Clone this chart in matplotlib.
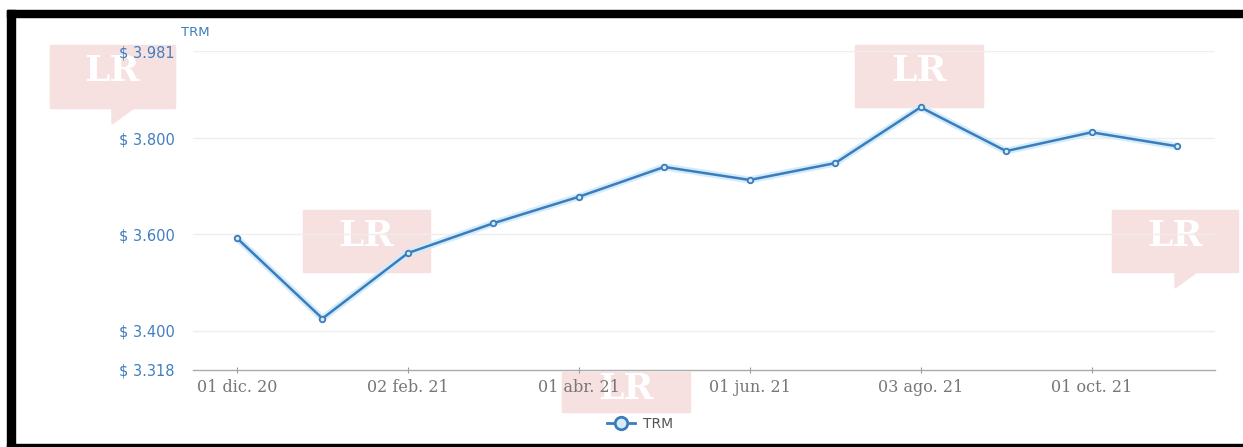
import matplotlib
matplotlib.use("Agg")
import matplotlib.pyplot as plt
from matplotlib.patches import Rectangle, Polygon

# ---- data ----
months = ["01 dic. 20", "04 ene. 21", "02 feb. 21", "01 mar. 21", "01 abr. 21", "03 may. 21",
          "01 jun. 21", "02 jul. 21", "03 ago. 21", "01 sep. 21", "01 oct. 21", "02 nov. 21"]
trm = [3592, 3425, 3561, 3623, 3678, 3740, 3713, 3748, 3864, 3773, 3812, 3783]
tick_idx = [0, 2, 4, 6, 8, 10]
ytick_vals = [3318, 3400, 3600, 3800, 3981]
ytick_labels = ["$ 3.318", "$ 3.400", "$ 3.600", "$ 3.800", "$ 3.981"]

W, H = 1243, 447
fig = plt.figure(figsize=(W / 100, H / 100), dpi=100)
fig.patch.set_facecolor("white")

# frame (black borders)
fig.add_artist(Rectangle((7 / W, 0), 8 / W, 1 - 10 / H, transform=fig.transFigure, color="black", zorder=5))
fig.add_artist(Rectangle((7 / W, 1 - 17 / H), 1 - 7 / W, 7 / H, transform=fig.transFigure, color="black", zorder=5))
fig.add_artist(Rectangle((7 / W, 0), 1 - 7 / W, 3 / H, transform=fig.transFigure, color="black", zorder=5))

WM = "#f6e0e0"

# watermarks (behind the chart)
def watermark(x0, y0, w, h, tail=None):
    fig.add_artist(Rectangle((x0 / W, 1 - (y0 + h) / H), w / W, h / H, transform=fig.transFigure,
                             color=WM, zorder=-2))
    if tail is not None:
        tx, ty = tail
        fig.add_artist(Polygon([(tx / W, 1 - ty / H), ((tx + 22) / W, 1 - ty / H), (tx / W, 1 - (ty + 16) / H)],
                               closed=True, transform=fig.transFigure, color=WM, zorder=-2))
    fig.text((x0 + w / 2) / W, 1 - (y0 + h * 0.42) / H, "LR", color="white", fontsize=26,
             family="DejaVu Serif", fontweight="bold", ha="center", va="center", zorder=-1)

watermark(50, 45, 125, 63, tail=(112, 108))
watermark(303, 210, 127, 62)
watermark(855, 45, 128, 62)
watermark(1112, 210, 126, 62, tail=(1175, 272))
watermark(562, 372, 128, 40)

# axes
left, right, top, bottom = 193, 1215, 51, 370
ax = fig.add_axes([left / W, 1 - bottom / H, (right - left) / W, (bottom - top) / H])
ax.set_zorder(1)
ax.patch.set_alpha(0)
x = list(range(len(trm)))
ax.plot(x, trm, color="#d3ecfc", lw=5, solid_capstyle="round", zorder=2)
ax.plot(x, trm, color="#3b7dbb", lw=1.8, marker="o", ms=4, mfc="#d7ebf8", mec="#3b7dbb", mew=1.3, zorder=3)

ax.set_xlim(-0.515, 11.445)
ax.set_ylim(3318, 3981)
ax.set_yticks(ytick_vals)
ax.set_yticklabels(ytick_labels, color="#3f7fc0", fontsize=10.5)
ax.set_xticks(tick_idx)
ax.set_xticklabels([months[i] for i in tick_idx], color="#777777", fontsize=11.5, family="DejaVu Serif")
ax.tick_params(axis="y", length=0, pad=13)
ax.tick_params(axis="x", length=5, color="#999999", pad=4, direction="inout")
for v in [3400, 3600, 3800, 3981]:
    ax.axhline(v, color="#eeeeee", lw=1, zorder=1)
for s in ["top", "right", "left"]:
    ax.spines[s].set_visible(False)
ax.spines["bottom"].set_color("#aaaaaa")
ax.spines["bottom"].set_linewidth(1)

fig.text(195 / W, 1 - 33 / H, "TRM", color="#3f7fc0", fontsize=9.5, ha="center", va="center")

# legend
leg = fig.legend(handles=[plt.Line2D([], [], color="#3b7dbb", lw=2, marker="o", ms=9, mfc="#d7ebf8",
                                     mec="#3b7dbb", mew=2)],
                 labels=["TRM"], loc="center", bbox_to_anchor=(640 / W, 1 - 424 / H), frameon=False,
                 fontsize=10, handlelength=2.0, handletextpad=0.6)
for t in leg.get_texts():
    t.set_color("#555555")

fig.savefig("out.png", dpi=100)
